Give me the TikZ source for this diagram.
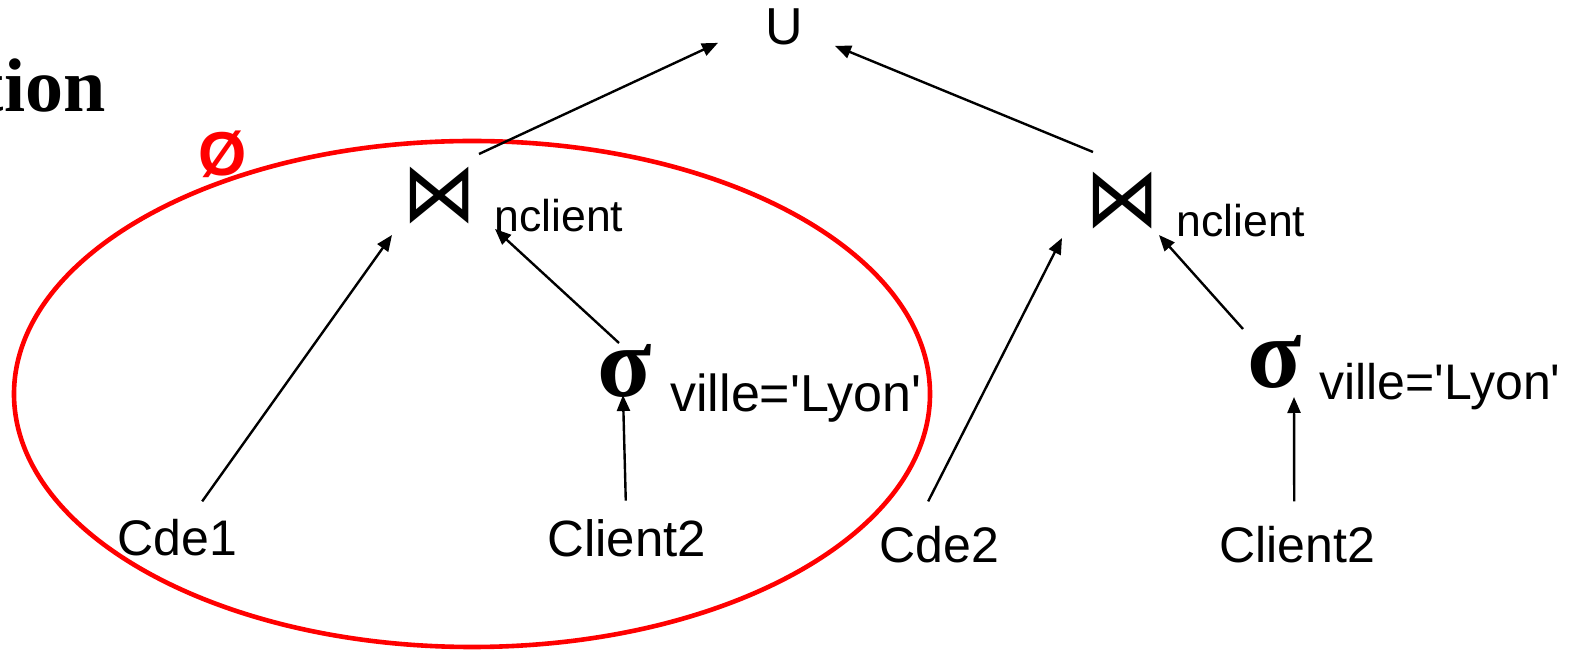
\documentclass[tikz,border=0pt]{standalone}
\usepackage{fontspec}
\setmainfont{Liberation Sans}
\newfontfamily\timesfont{Liberation Serif}
\newfontfamily\opfont{DejaVu Sans}
\usetikzlibrary{arrows.meta}

\begin{document}
\begin{tikzpicture}[x=0.5pt,y=-0.5pt,
    every node/.style={inner sep=0pt},
    rel/.style={font=\fontsize{25pt}{30pt}\selectfont},
    attr/.style={font=\fontsize{22.3pt}{26pt}\selectfont},
    joinop/.style={font=\opfont\fontsize{36pt}{40pt}\selectfont},
    sel/.style={font=\timesfont\bfseries\fontsize{50pt}{54pt}\selectfont},
    link/.style={-{Triangle[length=8pt,width=6.5pt]},line width=1.2pt}]
  \useasboundingbox (0,0) rectangle (1596,651);
  \node[anchor=base east,font=\timesfont\bfseries\fontsize{38pt}{44pt}\selectfont] (title) at (106,112) {tion};
  \draw[red,line width=2.3pt] (472,394) ellipse [x radius=229pt,y radius=126.5pt];
  \node[anchor=base,text=red,font=\bfseries\fontsize{31pt}{36pt}\selectfont] (empty) at (223,176) {Ø};
  \node[anchor=base,font=\fontsize{26pt}{30pt}\selectfont] (union) at (784,45) {U};
  \node[joinop] (jl) at (440,196) {\scalebox{1.03}[1.15]{⋈}};
  \node[joinop] (jr) at (1123,201) {\scalebox{1.03}[1.15]{⋈}};
  \node[attr,anchor=base west] (jlattr) at (494,232) {nclient};
  \node[attr,anchor=base west] (jrattr) at (1176,237) {nclient};
  \node[sel] (sl) at (625,371) {σ};
  \node[sel] (sr) at (1275,362) {σ};
  \node[rel,anchor=base west,font=\fontsize{26pt}{30pt}\selectfont] (slcond) at (670,412) {ville=\textquotesingle Lyon\textquotesingle};
  \node[rel,anchor=base west] (srcond) at (1319,400) {ville=\textquotesingle Lyon\textquotesingle};
  \node[rel,anchor=base west] (cde1) at (117,556) {Cde1};
  \node[rel,anchor=base west,font=\fontsize{25.5pt}{30pt}\selectfont] (cl2) at (547,557) {Client2};
  \node[rel,anchor=base west] (cde2) at (879,563) {Cde2};
  \node[rel,anchor=base west] (cr2) at (1219,563) {Client2};
  \draw[link] ([xshift=19.5pt,yshift=21pt]jl.center) -- ([xshift=-33pt,yshift=-7.75pt]union.center);
  \draw[link] ([xshift=-15pt,yshift=24.5pt]jr.center) -- ([xshift=25.5pt,yshift=-9.25pt]union.center);
  \draw[link] ([xshift=12.5pt,yshift=9pt]cde1.north) -- ([xshift=-24pt,yshift=-19.5pt]jl.center);
  \draw[link] ([xshift=-3pt,yshift=14pt]sl.center) -- ([xshift=27.5pt,yshift=-16.5pt]jl.center);
  \draw[link] ([xshift=-0.5pt,yshift=9.5pt]cl2.north) -- ([xshift=-1pt,yshift=-12pt]sl.center);
  \draw[link] ([xshift=-5.5pt,yshift=12.5pt]cde2.north) -- ([xshift=-30.5pt,yshift=-18.5pt]jr.center);
  \draw[link] ([xshift=-16pt,yshift=16.5pt]sr.center) -- ([xshift=18pt,yshift=-17pt]jr.center);
  \draw[link] ([xshift=-1.5pt,yshift=12.5pt]cr2.north) -- ([xshift=9.5pt,yshift=-17.5pt]sr.center);
\end{tikzpicture}
\end{document}
